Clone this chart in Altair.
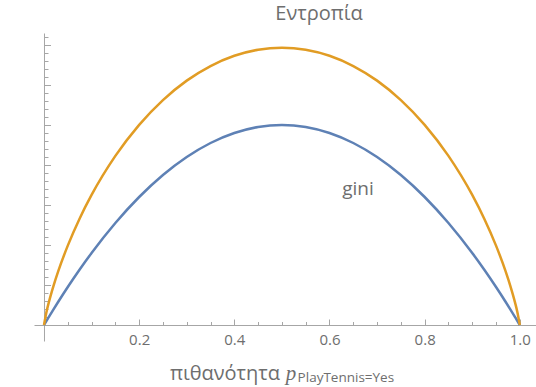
import altair as alt
import pandas as pd

# ---- data ----
P = [0, 0.005, 0.01, 0.02, 0.03, 0.05, 0.075, 0.1, 0.15, 0.2, 0.25, 0.3, 0.35, 0.4, 0.45, 0.5,
     0.55, 0.6, 0.65, 0.7, 0.75, 0.8, 0.85, 0.9, 0.925, 0.95, 0.97, 0.98, 0.99, 0.995, 1.0]
ENTROPY = [0, 0.0315, 0.0560, 0.0980, 0.1347, 0.1985, 0.2664, 0.3251, 0.4227, 0.5004, 0.5623,
           0.6109, 0.6474, 0.6730, 0.6881, 0.6931, 0.6881, 0.6730, 0.6474, 0.6109, 0.5623,
           0.5004, 0.4227, 0.3251, 0.2664, 0.1985, 0.1347, 0.0980, 0.0560, 0.0315, 0]
GINI = [0, 0.0100, 0.0198, 0.0392, 0.0582, 0.0950, 0.1388, 0.1800, 0.2550, 0.3200, 0.3750,
        0.4200, 0.4550, 0.4800, 0.4950, 0.5000, 0.4950, 0.4800, 0.4550, 0.4200, 0.3750,
        0.3200, 0.2550, 0.1800, 0.1388, 0.0950, 0.0582, 0.0392, 0.0198, 0.0100, 0]

X_MAJOR = [0.2, 0.4, 0.6, 0.8, 1.0]
X_MINOR = [0.05, 0.1, 0.15, 0.25, 0.3, 0.35, 0.45, 0.5, 0.55, 0.65, 0.7, 0.75, 0.85, 0.9, 0.95]
Y_MAJOR = [0.1, 0.2, 0.3, 0.4, 0.5, 0.6, 0.7]
Y_MINOR = [0.02, 0.04, 0.06, 0.08, 0.12, 0.14, 0.16, 0.18, 0.22, 0.24, 0.26, 0.28,
           0.32, 0.34, 0.36, 0.38, 0.42, 0.44, 0.46, 0.48, 0.52, 0.54, 0.56, 0.58,
           0.62, 0.64, 0.66, 0.68, 0.72]

LABEL_ENTROPY = "Εντροπία"
LABEL_GINI = "gini"
XTITLE_MAIN = "πιθανότητα"
XTITLE_VAR = "p"
XTITLE_SUB = "PlayTennis=Yes"

# ---- layout ----
W, H = 502, 308
XDOM = [-0.021, 1.034]
YDOM = [-0.04, 0.73]
X_AXIS_OFFSET = -H * YDOM[1] / (YDOM[1] - YDOM[0])   # puts the top axis on y = 0
Y_AXIS_OFFSET = -W * XDOM[1] / (XDOM[1] - XDOM[0])   # puts the right axis on x = 0
LBL_AXIS_OFFSET = -H * (-YDOM[0]) / (YDOM[1] - YDOM[0])

AXIS_GRAY = "#a6a6a6"
TEXT_GRAY = "#6e6e6e"
ORANGE = "#E19C24"
BLUE = "#5E81B5"
FONT = "Open Sans"

xs = alt.Scale(domain=XDOM, nice=False, zero=False)
ys = alt.Scale(domain=YDOM, nice=False, zero=False)

df = pd.DataFrame({"p": P, "entropy": ENTROPY, "gini": GINI})

minor_x = alt.Axis(orient="top", values=X_MINOR, tickSize=3.5, labels=False, title=None,
                   grid=False, domain=True, offset=X_AXIS_OFFSET, domainColor=AXIS_GRAY,
                   tickColor=AXIS_GRAY, domainWidth=1, tickWidth=1)
minor_y = alt.Axis(orient="right", values=Y_MINOR, tickSize=4, labels=False, title=None,
                   grid=False, domain=True, offset=Y_AXIS_OFFSET, domainColor=AXIS_GRAY,
                   tickColor=AXIS_GRAY, domainWidth=1, tickWidth=1)
major_x = alt.Axis(orient="top", values=X_MAJOR, tickSize=6, labels=False, title=None,
                   grid=False, domain=False, offset=X_AXIS_OFFSET, tickColor=AXIS_GRAY, tickWidth=1)
major_y = alt.Axis(orient="right", values=Y_MAJOR, tickSize=6.5, labels=False, title=None,
                   grid=False, domain=False, offset=Y_AXIS_OFFSET, tickColor=AXIS_GRAY, tickWidth=1)
label_x = alt.Axis(orient="bottom", values=X_MAJOR, ticks=False, domain=False, grid=False,
                   labels=True, title=None, format=".1f", labelPadding=7,
                   offset=LBL_AXIS_OFFSET, labelFontSize=15, labelColor=TEXT_GRAY,
                   labelFont=FONT)

gini_line = alt.Chart(df).mark_line(color=BLUE, strokeWidth=2.5, interpolate="monotone").encode(
    x=alt.X("p:Q", scale=xs, axis=minor_x),
    y=alt.Y("gini:Q", scale=ys, axis=minor_y),
)
entropy_line = alt.Chart(df).mark_line(color=ORANGE, strokeWidth=2.5, interpolate="monotone").encode(
    x=alt.X("p:Q", scale=xs, axis=major_x),
    y=alt.Y("entropy:Q", scale=ys, axis=major_y),
)
label_layer = alt.Chart(df).mark_point(opacity=0).encode(
    x=alt.X("p:Q", scale=xs, axis=label_x),
    y=alt.Y("gini:Q", scale=ys, axis=None),
)


def text_layer(text, x, y, size, font, align, style="normal", color=TEXT_GRAY):
    t = pd.DataFrame({"x": [x], "y": [y], "t": [text]})
    return alt.Chart(t).mark_text(
        font=font, fontSize=size, fontStyle=style, align=align, baseline="alphabetic",
        color=color
    ).encode(
        x=alt.X("x:Q", scale=xs, axis=None),
        y=alt.Y("y:Q", scale=ys, axis=None),
        text="t:N",
    )


t_entropy = text_layer(LABEL_ENTROPY, 0.578, 0.762, 20, FONT, "center")
t_gini = text_layer(LABEL_GINI, 0.66, 0.325, 19, FONT, "center")
t_main = text_layer(XTITLE_MAIN, 0.496, -0.138, 20, FONT, "right")
t_var = text_layer(XTITLE_VAR, 0.508, -0.138, 21, "Liberation Serif", "left", "italic")
t_sub = text_layer(XTITLE_SUB, 0.533, -0.142, 13.5, FONT, "left")

chart = alt.layer(
    gini_line, entropy_line, label_layer, t_entropy, t_gini, t_main, t_var, t_sub
).resolve_scale(x="independent", y="independent").resolve_axis(
    x="independent", y="independent"
).properties(
    width=W, height=H,
    autosize=alt.AutoSizeParams(type="none"),
    padding={"left": 34, "top": 33, "right": 0, "bottom": 46},
    background="white",
).configure_view(stroke=None)

chart.save("out.html", embed_options={"renderer": "svg", "actions": False})
